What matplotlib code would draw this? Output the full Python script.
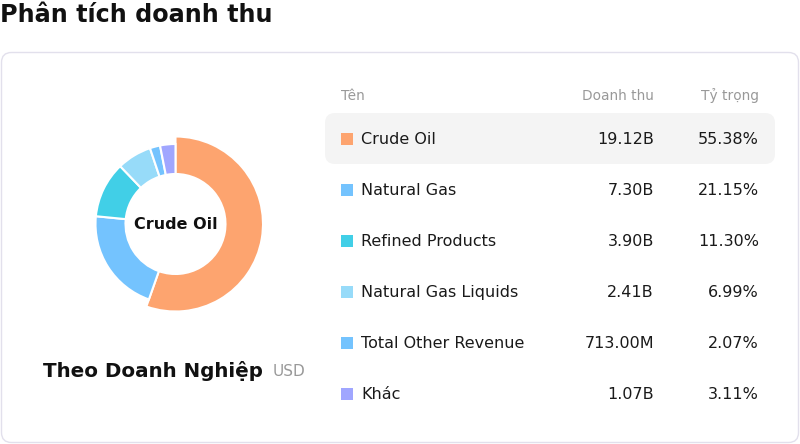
import matplotlib
matplotlib.use("Agg")
import matplotlib.pyplot as plt
from matplotlib.patches import FancyBboxPatch, Rectangle

plt.rcParams['font.family'] = ['DejaVu Sans']

# Du lieu doanh thu
ten = ["Crude Oil", "Natural Gas", "Refined Products", "Natural Gas Liquids",
       "Total Other Revenue", "Khác"]
doanh_thu = [19.12e9, 7.30e9, 3.90e9, 2.41e9, 713.00e6, 1.07e9]
doanh_thu_txt = ["19.12B", "7.30B", "3.90B", "2.41B", "713.00M", "1.07B"]
ty_trong = [55.38, 21.15, 11.30, 6.99, 2.07, 3.11]
mau = ["#FDA46F", "#74C3FE", "#41CFE7", "#97DBF9", "#74C3FE", "#A0A6FF"]

W, H = 800, 444
fig = plt.figure(figsize=(W / 100, H / 100), dpi=100)

# Nen (toa do pixel)
bg = fig.add_axes([0, 0, 1, 1])
bg.set_xlim(0, W)
bg.set_ylim(H, 0)
bg.axis("off")

# Tieu de
bg.text(0, 15, "Phân tích doanh thu", fontsize=17.2, fontweight="bold",
        color="#111111", va="center", ha="left")

# Khung the
card = FancyBboxPatch((1.5, 52.5), 797, 390, boxstyle="round,pad=0,rounding_size=10",
                      fc="white", ec="#E2E0EC", lw=1)
bg.add_patch(card)

# Tieu de bang
mau_tieu_de = "#999999"
bg.text(341, 96, "Tên", fontsize=9.9, color=mau_tieu_de, va="center", ha="left")
bg.text(654, 96, "Doanh thu", fontsize=9.9, color=mau_tieu_de, va="center", ha="right")
bg.text(759, 96, "Tỷ trọng", fontsize=9.9, color=mau_tieu_de, va="center", ha="right")

# Hang dang chon
hl = FancyBboxPatch((325, 113), 450, 51, boxstyle="round,pad=0,rounding_size=10",
                    fc="#F4F4F4", ec="none")
bg.add_patch(hl)

for i in range(len(ten)):
    y = 139 + i * 51
    bg.add_patch(Rectangle((341, y - 6), 12, 12, fc=mau[i], ec="none"))
    bg.text(361, y, ten[i], fontsize=11.5, color="#1a1a1a", va="center", ha="left")
    bg.text(654, y, doanh_thu_txt[i], fontsize=11.5, color="#1a1a1a", va="center", ha="right")
    bg.text(759, y, f"{ty_trong[i]:.2f}%", fontsize=11.5, color="#1a1a1a", va="center", ha="right")

# Chu thich duoi bieu do
bg.text(43, 371, "Theo Doanh Nghiệp", fontsize=14.3, fontweight="bold",
        color="#111111", va="center", ha="left")
bg.text(273, 371, "USD", fontsize=11, color="#999999", va="center", ha="left")

# Bieu do vanh khuyen
cx, cy, R = 175.5, 224, 80
size = 200
ax = fig.add_axes([(cx - size / 2) / W, (H - cy - size / 2) / H, size / W, size / H])
wedges, _ = ax.pie(doanh_thu, colors=mau, startangle=90, counterclock=False,
                   radius=1, wedgeprops=dict(width=0.375, edgecolor="white", linewidth=1.5))
# lat cat dang hover lon hon
wedges[0].set_radius(87.5 / R)
wedges[0].set_width(87.5 / R - 0.625)
ax.set_xlim(-size / 2 / R, size / 2 / R)
ax.set_ylim(-size / 2 / R, size / 2 / R)
ax.set_aspect("equal")
ax.axis("off")
ax.text(0, 0, "Crude Oil", fontsize=11.5, fontweight="bold", color="#111111",
        ha="center", va="center")

fig.savefig("out.png", dpi=100)
